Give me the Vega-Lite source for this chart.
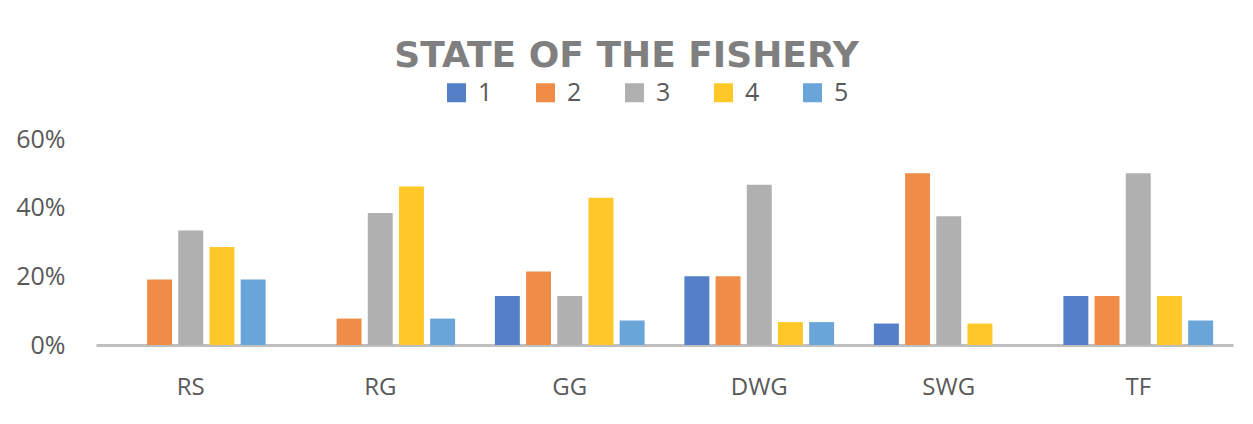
{
  "$schema": "https://vega.github.io/schema/vega-lite/v6.json",
  "autosize": {"type": "none"},
  "width": 1137,
  "height": 206,
  "padding": {"left": 96, "top": 139, "right": 20, "bottom": 79},
  "background": "white",
  "title": {
    "text": "STATE OF THE FISHERY",
    "font": "DejaVu Sans",
    "fontSize": 36,
    "fontWeight": "bold",
    "color": "#7f7f7f",
    "anchor": "middle",
    "dx": -38,
    "offset": 5
  },
  "data": {
    "values": [
      {"site": "RS", "rating": "1", "share": 0},
      {"site": "RS", "rating": "2", "share": 0.1905},
      {"site": "RS", "rating": "3", "share": 0.3333},
      {"site": "RS", "rating": "4", "share": 0.2857},
      {"site": "RS", "rating": "5", "share": 0.1905},
      {"site": "RG", "rating": "1", "share": 0},
      {"site": "RG", "rating": "2", "share": 0.0769},
      {"site": "RG", "rating": "3", "share": 0.3846},
      {"site": "RG", "rating": "4", "share": 0.4615},
      {"site": "RG", "rating": "5", "share": 0.0769},
      {"site": "GG", "rating": "1", "share": 0.1429},
      {"site": "GG", "rating": "2", "share": 0.2143},
      {"site": "GG", "rating": "3", "share": 0.1429},
      {"site": "GG", "rating": "4", "share": 0.4286},
      {"site": "GG", "rating": "5", "share": 0.0714},
      {"site": "DWG", "rating": "1", "share": 0.2},
      {"site": "DWG", "rating": "2", "share": 0.2},
      {"site": "DWG", "rating": "3", "share": 0.4667},
      {"site": "DWG", "rating": "4", "share": 0.0667},
      {"site": "DWG", "rating": "5", "share": 0.0667},
      {"site": "SWG", "rating": "1", "share": 0.0625},
      {"site": "SWG", "rating": "2", "share": 0.5},
      {"site": "SWG", "rating": "3", "share": 0.375},
      {"site": "SWG", "rating": "4", "share": 0.0625},
      {"site": "SWG", "rating": "5", "share": 0},
      {"site": "TF", "rating": "1", "share": 0.1429},
      {"site": "TF", "rating": "2", "share": 0.1429},
      {"site": "TF", "rating": "3", "share": 0.5},
      {"site": "TF", "rating": "4", "share": 0.1429},
      {"site": "TF", "rating": "5", "share": 0.0714}
    ]
  },
  "mark": {"type": "bar"},
  "encoding": {
    "x": {
      "field": "site",
      "type": "nominal",
      "sort": ["RS", "RG", "GG", "DWG", "SWG", "TF"],
      "scale": {"paddingInner": 0.177, "paddingOuter": 0.0885},
      "axis": {
        "title": null,
        "labelAngle": 0,
        "labelFont": "Open Sans",
        "labelFontSize": 24,
        "labelColor": "#595959",
        "labelPadding": 30,
        "ticks": false,
        "domainColor": "#bfbfbf",
        "domainWidth": 3,
        "grid": false
      }
    },
    "xOffset": {
      "field": "rating",
      "type": "nominal",
      "scale": {"paddingInner": 0.2, "paddingOuter": 0.1}
    },
    "y": {
      "field": "share",
      "type": "quantitative",
      "scale": {"domain": [0, 0.6], "nice": false},
      "axis": {
        "title": null,
        "values": [0, 0.2, 0.4, 0.6],
        "format": ".0%",
        "labelFont": "Open Sans",
        "labelFontSize": 25,
        "labelColor": "#595959",
        "labelPadding": 31,
        "ticks": false,
        "domain": false,
        "grid": false
      }
    },
    "color": {
      "field": "rating",
      "type": "nominal",
      "scale": {
        "domain": ["1", "2", "3", "4", "5"],
        "range": ["#5580c8", "#ef8c47", "#b0b0b0", "#ffc828", "#6aa5d9"]
      },
      "legend": {
        "title": null,
        "orient": "none",
        "direction": "horizontal",
        "legendX": 348,
        "legendY": -59,
        "symbolType": "square",
        "symbolSize": 361,
        "symbolStrokeWidth": 0,
        "labelFont": "Open Sans",
        "labelFontSize": 25,
        "labelColor": "#595959",
        "labelOffset": 9,
        "columnPadding": 40
      }
    }
  },
  "config": {
    "view": {"stroke": null}
  }
}
